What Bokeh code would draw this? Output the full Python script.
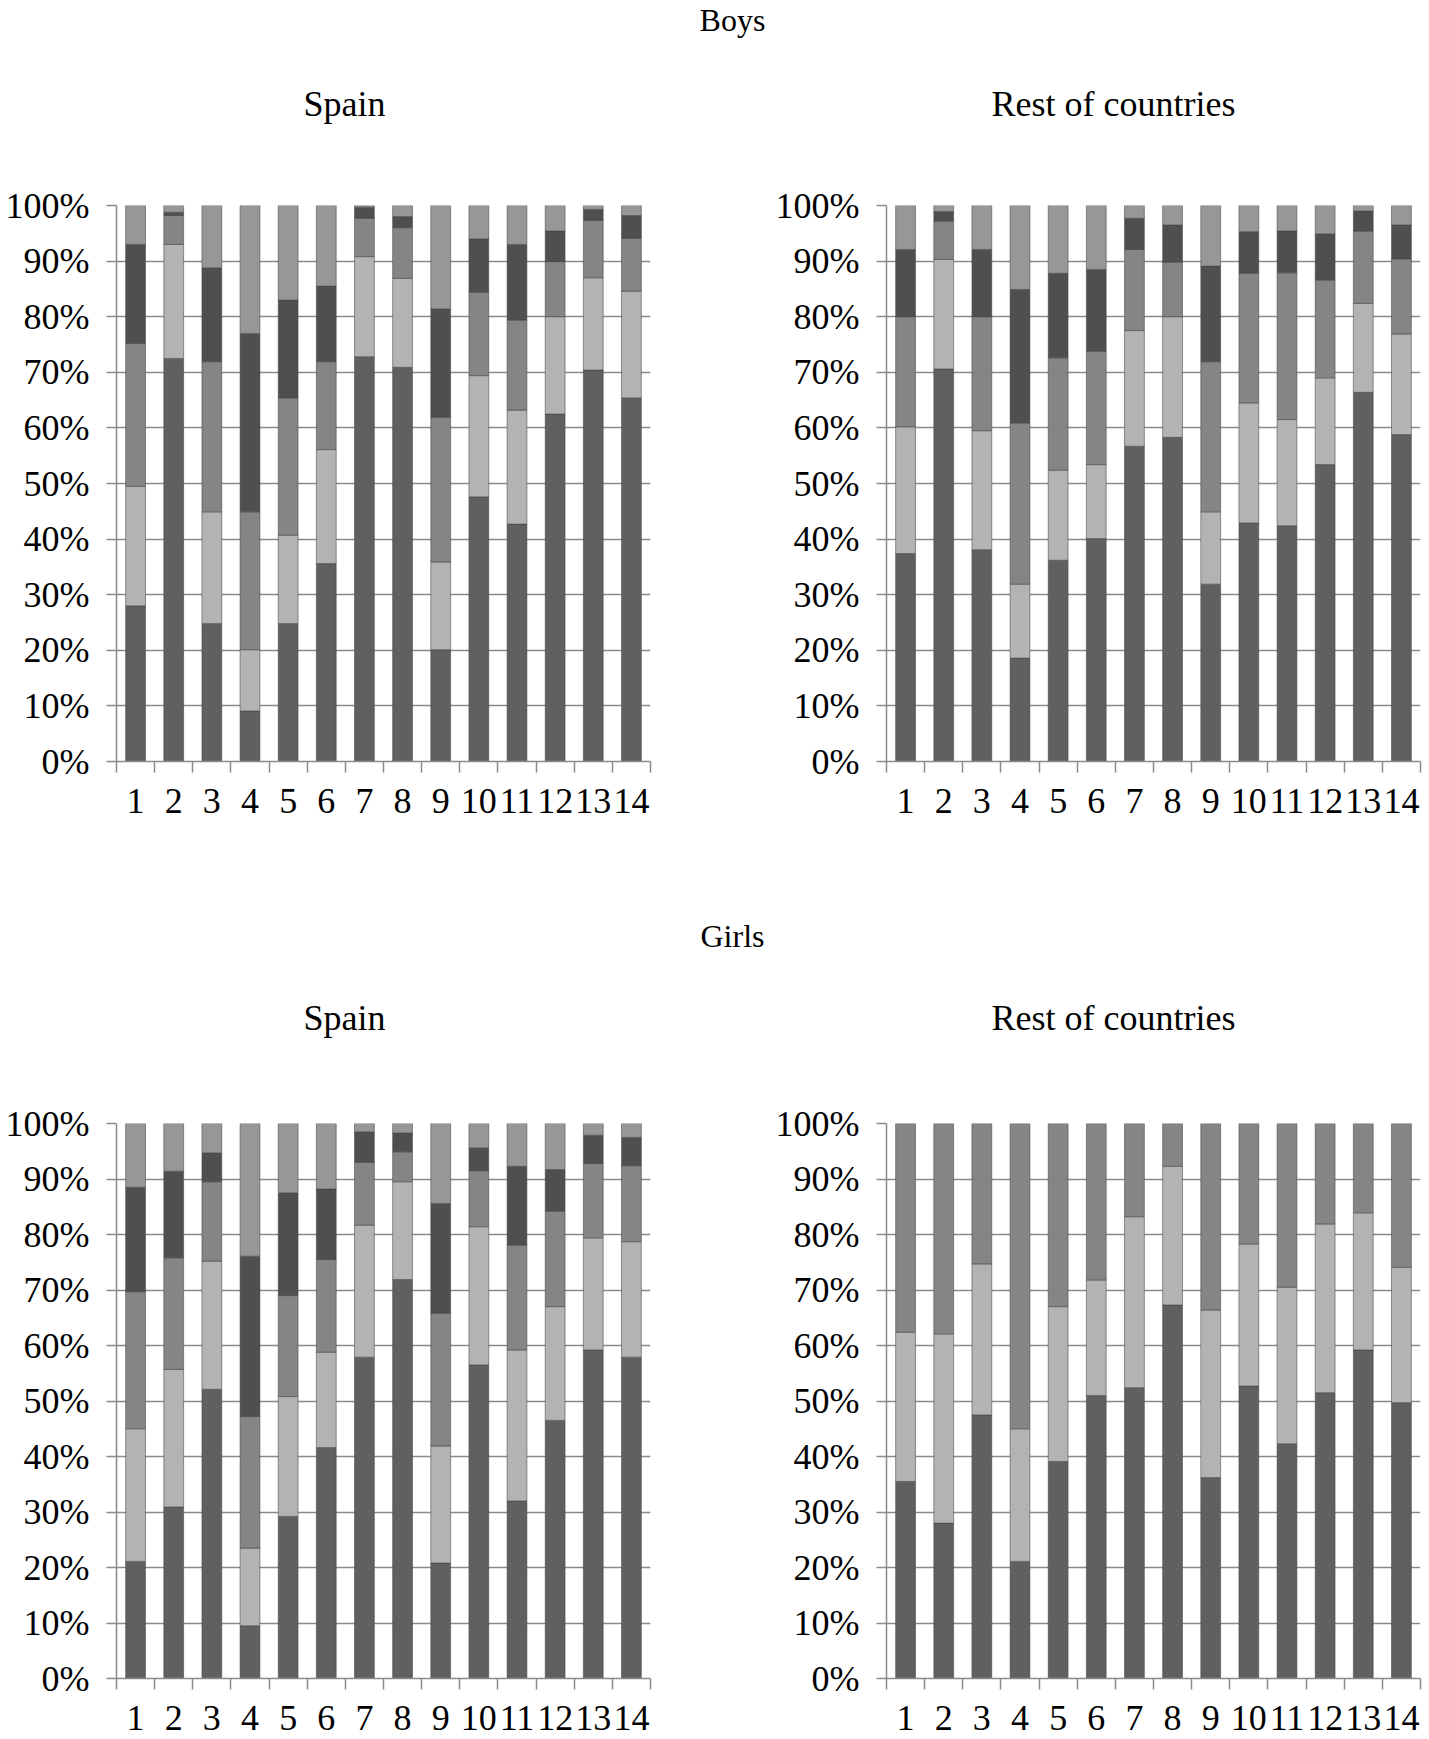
from bokeh.plotting import figure
from bokeh.models import ColumnDataSource, Range1d, FixedTicker
from bokeh.layouts import column, row
from bokeh.core.properties import value
from bokeh.embed import file_html
from bokeh.resources import INLINE

# ---------------- data ----------------
categories = list(range(1, 15))
x_tick_labels = [str(c) for c in categories]
x_boundaries = [c - 0.5 for c in categories] + [14.5]
y_ticks = [0, 10, 20, 30, 40, 50, 60, 70, 80, 90, 100]
y_tick_labels = ["0%", "10%", "20%", "30%", "40%", "50%", "60%", "70%", "80%", "90%", "100%"]

group_titles = ["Boys", "Girls"]
panel_titles = ["Spain", "Rest of countries"]

# Boys - Spain (segments bottom -> top, %)
boys_spain_s1 = [28.0, 72.5, 24.8, 9.1, 24.8, 35.6, 72.8, 70.9, 20.1, 47.6, 42.7, 62.5, 70.4, 65.4]
boys_spain_s2 = [21.5, 20.5, 20.1, 11.0, 15.9, 20.5, 18.0, 16.0, 15.8, 21.8, 20.5, 17.5, 16.6, 19.2]
boys_spain_s3 = [25.7, 5.2, 27.0, 24.8, 24.7, 15.8, 6.9, 9.1, 26.0, 15.0, 16.2, 9.9, 10.3, 9.5]
boys_spain_s4 = [17.8, 0.6, 16.9, 32.1, 17.6, 13.6, 2.0, 2.0, 19.5, 9.6, 13.6, 5.5, 2.0, 4.1]
boys_spain_s5 = [7.0, 1.2, 11.2, 23.0, 17.0, 14.5, 0.3, 2.0, 18.6, 6.0, 7.0, 4.6, 0.7, 1.8]

# Boys - Rest of countries
boys_rest_s1 = [37.4, 70.6, 38.1, 18.6, 36.2, 40.1, 56.7, 58.3, 31.9, 42.9, 42.4, 53.4, 66.4, 58.8]
boys_rest_s2 = [22.8, 19.7, 21.4, 13.3, 16.2, 13.3, 20.8, 21.7, 13.0, 21.6, 19.1, 15.6, 16.0, 18.1]
boys_rest_s3 = [19.8, 6.9, 20.5, 29.0, 20.2, 20.4, 14.6, 9.8, 27.0, 23.3, 26.4, 17.6, 13.0, 13.5]
boys_rest_s4 = [12.1, 1.7, 12.1, 24.0, 15.2, 14.7, 5.6, 6.7, 17.2, 7.5, 7.5, 8.3, 3.6, 6.1]
boys_rest_s5 = [7.9, 1.1, 7.9, 15.1, 12.2, 11.5, 2.3, 3.5, 10.9, 4.7, 4.6, 5.1, 1.0, 3.5]

# Girls - Spain
girls_spain_s1 = [21.1, 30.9, 52.1, 9.5, 29.2, 41.6, 57.9, 71.9, 20.8, 56.5, 32.0, 46.5, 59.2, 57.9]
girls_spain_s2 = [23.9, 24.8, 23.1, 14.0, 21.6, 17.2, 23.8, 17.6, 21.1, 24.9, 27.2, 20.5, 20.2, 20.8]
girls_spain_s3 = [24.7, 20.1, 14.3, 23.7, 18.2, 16.7, 11.3, 5.4, 23.9, 10.1, 18.9, 17.2, 13.4, 13.7]
girls_spain_s4 = [18.8, 15.6, 5.2, 28.9, 18.5, 12.7, 5.5, 3.4, 19.8, 4.1, 14.2, 7.5, 5.1, 5.1]
girls_spain_s5 = [11.5, 8.6, 5.3, 23.9, 12.5, 11.8, 1.5, 1.7, 14.4, 4.4, 7.7, 8.3, 2.1, 2.5]

# Girls - Rest of countries
girls_rest_s1 = [35.5, 28.0, 47.5, 21.1, 39.1, 51.0, 52.4, 67.3, 36.2, 52.7, 42.3, 51.5, 59.2, 49.7]
girls_rest_s2 = [26.9, 34.1, 27.2, 23.9, 27.9, 20.8, 30.8, 25.0, 30.2, 25.6, 28.2, 30.4, 24.7, 24.4]
girls_rest_s3 = [37.6, 37.9, 25.3, 55.0, 33.0, 28.2, 16.8, 7.7, 33.6, 21.7, 29.5, 18.1, 16.1, 25.9]

segment_colors = ["#606060", "#b3b3b3", "#858585", "#4f4f4f", "#979797"]

# ---------------- styling ----------------
FONT = "Liberation Serif"
GRID = "#8a8a8a"
PAGE_W = 1429


def make_header(height, group, group_x, group_y, title_y):
    h = figure(width=PAGE_W, height=height,
               x_range=Range1d(0, PAGE_W), y_range=Range1d(height, 0),
               output_backend="svg", toolbar_location=None,
               x_axis_location=None, y_axis_location=None,
               min_border=0, min_border_left=0, min_border_right=0,
               min_border_top=0, min_border_bottom=0,
               outline_line_color=None,
               background_fill_color="white", border_fill_color="white")
    h.grid.visible = False
    h.text(x=[group_x], y=[group_y], text=[group],
           text_font=value(FONT), text_font_size="32px", text_color="black",
           text_align="center", text_baseline="alphabetic")
    h.text(x=[344, 1113], y=[title_y, title_y], text=panel_titles,
           text_font=value(FONT), text_font_size="36px", text_color="black",
           text_align="center", text_baseline="alphabetic")
    return h


def make_panel(segs, width, height, left, right, top, bottom):
    p = figure(width=width, height=height,
               x_range=Range1d(0.5, 14.5), y_range=Range1d(0, 100),
               output_backend="svg", toolbar_location=None,
               min_border_left=left, min_border_right=right,
               min_border_top=top, min_border_bottom=bottom,
               outline_line_color=None,
               background_fill_color="white", border_fill_color="white")
    data = {"x": categories}
    names = []
    for i, s in enumerate(segs):
        data["s%d" % i] = s
        names.append("s%d" % i)
    src = ColumnDataSource(data)
    p.vbar_stack(names, x="x", width=0.52, source=src,
                 fill_color=segment_colors[:len(names)],
                 line_color="#454545", line_alpha=0.55, line_width=1)

    xa = p.xaxis[0]
    xa.ticker = FixedTicker(ticks=categories, minor_ticks=x_boundaries)
    xa.major_label_overrides = dict(zip(categories, x_tick_labels))
    xa.major_tick_line_color = None
    xa.major_tick_out = 0
    xa.major_tick_in = 0
    xa.minor_tick_out = 11
    xa.minor_tick_in = 0
    xa.minor_tick_line_color = GRID
    xa.minor_tick_line_width = 1.5
    xa.axis_line_color = GRID
    xa.axis_line_width = 1.5
    xa.major_label_standoff = 16
    xa.major_label_text_font = FONT
    xa.major_label_text_font_size = "36px"
    xa.major_label_text_color = "black"

    ya = p.yaxis[0]
    yt = FixedTicker(ticks=y_ticks, minor_ticks=[])
    ya.ticker = yt
    ya.major_label_overrides = dict(zip(y_ticks, y_tick_labels))
    ya.major_tick_out = 10
    ya.major_tick_in = 0
    ya.major_tick_line_color = GRID
    ya.major_tick_line_width = 1.5
    ya.minor_tick_line_color = None
    ya.axis_line_color = GRID
    ya.axis_line_width = 1.5
    ya.major_label_standoff = 17
    ya.major_label_text_font = FONT
    ya.major_label_text_font_size = "36px"
    ya.major_label_text_color = "black"

    p.xgrid.visible = False
    p.ygrid[0].ticker = yt
    p.ygrid.grid_line_color = GRID
    p.ygrid.grid_line_width = 1.5
    return p


# header 1: y 0..180
h1 = make_header(180, group_titles[0], 732, 19, 103)
# Row 1 (boys): canvas y 180..880 ; frame 205..761
p1 = make_panel([boys_spain_s1, boys_spain_s2, boys_spain_s3, boys_spain_s4, boys_spain_s5],
                770, 700, 116, 120, 25, 119)
p2 = make_panel([boys_rest_s1, boys_rest_s2, boys_rest_s3, boys_rest_s4, boys_rest_s5],
                659, 700, 116, 9, 25, 119)
# header 2: y 880..1098
h2 = make_header(218, group_titles[1], 732, 55, 137)
# Row 2 (girls): canvas y 1098..1739 ; frame 1123..1678
p3 = make_panel([girls_spain_s1, girls_spain_s2, girls_spain_s3, girls_spain_s4, girls_spain_s5],
                770, 641, 116, 120, 25, 61)
p4 = make_panel([girls_rest_s1, girls_rest_s2, girls_rest_s3],
                659, 641, 116, 9, 25, 61)

layout = column(h1, row(p1, p2), h2, row(p3, p4))

open("out.html", "w").write(file_html(layout, INLINE))
